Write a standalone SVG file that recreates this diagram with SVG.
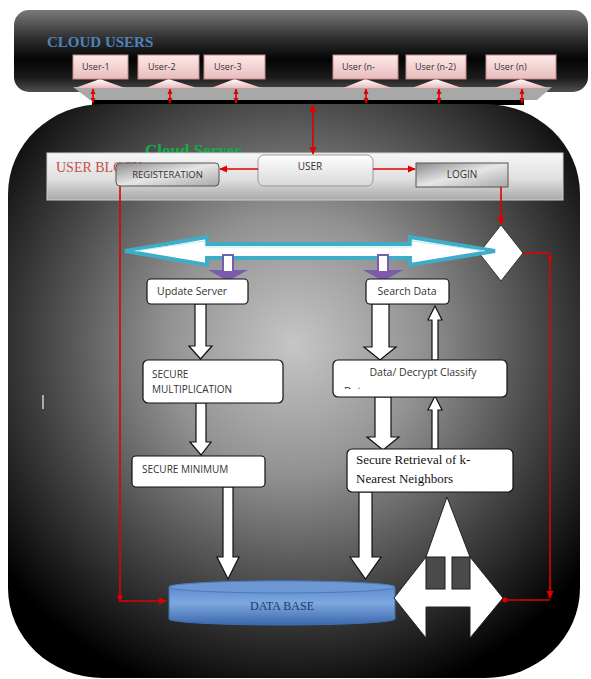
<svg xmlns="http://www.w3.org/2000/svg" width="591" height="679" viewBox="0 0 591 679">
<defs>
<linearGradient id="barGrad" x1="0" y1="0" x2="0" y2="1">
<stop offset="0" stop-color="#7a7a7a"/>
<stop offset="0.15" stop-color="#5a5a5a"/>
<stop offset="0.35" stop-color="#2e2e2e"/>
<stop offset="0.6" stop-color="#040404"/>
<stop offset="0.82" stop-color="#1a1a1a"/>
<stop offset="1" stop-color="#505050"/>
</linearGradient>
<radialGradient id="panelGrad" cx="0.5" cy="0.42" r="0.64">
<stop offset="0" stop-color="#c6c6c6"/>
<stop offset="0.35" stop-color="#929292"/>
<stop offset="0.7" stop-color="#424242"/>
<stop offset="1" stop-color="#000"/>
</radialGradient>
<linearGradient id="userGrad" x1="0" y1="0" x2="0" y2="1">
<stop offset="0" stop-color="#fdeaea"/>
<stop offset="1" stop-color="#e9bcbc"/>
</linearGradient>
<linearGradient id="pedGrad" x1="0" y1="0" x2="0" y2="1">
<stop offset="0" stop-color="#ffffff"/>
<stop offset="1" stop-color="#eeb9b9"/>
</linearGradient>
<linearGradient id="bandGrad" x1="0" y1="0" x2="0" y2="1">
<stop offset="0" stop-color="#f6f6f6"/>
<stop offset="0.55" stop-color="#e0e0e0"/>
<stop offset="1" stop-color="#a9a9a9"/>
</linearGradient>
<linearGradient id="btnGrad" x1="0" y1="0" x2="1" y2="1">
<stop offset="0" stop-color="#8a8a8a"/>
<stop offset="0.5" stop-color="#e6e6e6"/>
<stop offset="1" stop-color="#a8a8a8"/>
</linearGradient>
<linearGradient id="userBtnGrad" x1="0" y1="0" x2="0" y2="1">
<stop offset="0" stop-color="#ffffff"/>
<stop offset="1" stop-color="#d8d8d8"/>
</linearGradient>
<linearGradient id="dbGrad" x1="0" y1="0" x2="0" y2="1">
<stop offset="0" stop-color="#4f80c6"/>
<stop offset="0.5" stop-color="#7ea8e0"/>
<stop offset="1" stop-color="#3a68ac"/>
</linearGradient>
<marker id="rh" viewBox="0 0 10 10" refX="9" refY="5" markerWidth="5" markerHeight="5" orient="auto-start-reverse">
<path d="M0,0.5 L10,5 L0,9.5 z" fill="#e00000"/>
</marker>
<marker id="rs" viewBox="0 0 10 10" refX="9" refY="5" markerWidth="3.5" markerHeight="3.5" orient="auto-start-reverse">
<path d="M0,0.5 L10,5 L0,9.5 z" fill="#e00000"/>
</marker>
<clipPath id="dataClip"><rect x="333" y="360" width="174" height="29"/></clipPath>
<style>
.sans{font-family:"Open Sans","Liberation Sans",sans-serif;fill:#333}
.ser{font-family:"Liberation Serif",serif}
.box{fill:#fff;stroke:#111;stroke-width:1.2}
.ubox{fill:url(#userGrad);stroke:#c48a8a;stroke-width:1}
.ped{fill:url(#pedGrad)}
.red{stroke:#e00000;stroke-width:1.6;fill:none}
.blk{fill:#fff;stroke:#111;stroke-width:1.2;stroke-linejoin:miter}
.pur{fill:#7c5aae}
.dot{fill:#e00000}
</style>
</defs>

<!-- cloud users bar -->
<g id="cloud-users-bar">
<rect x="14" y="10" width="574" height="82" rx="15" fill="url(#barGrad)"/>
<polygon points="73,87 552,87 537,100 90,100" fill="#a8a8a8"/>
<rect x="92" y="100" width="432" height="5" fill="#000"/>
<text x="47" y="46.5" class="ser" font-size="15" font-weight="bold" fill="#4f81bd">CLOUD USERS</text>
</g>

<!-- server panel -->
<g id="server-panel">
<rect x="8" y="104" width="572" height="574" rx="95" ry="90" fill="url(#panelGrad)"/>
<text x="145" y="156" class="ser" font-size="17" font-weight="bold" fill="#0fae48">Cloud Server</text>
<rect x="47" y="153" width="516" height="47" fill="url(#bandGrad)" stroke="#d0d0d0" stroke-width="1"/>
<text x="56" y="172" class="ser" font-size="14" fill="#c0504d">USER BLOCK</text>
<line x1="43" y1="395" x2="43" y2="409" stroke="#cfcfcf" stroke-width="1.5"/>
</g>

<!-- users -->
<g id="user-1"><polygon class="ped" points="75,88 125,88 100,79"/><rect class="ubox" x="73" y="55" width="55" height="24"/><text x="82" y="70" class="sans" font-size="9">User-1</text></g>
<g id="user-2"><polygon class="ped" points="146,88 197,88 168.5,79"/><rect class="ubox" x="138" y="55" width="61" height="24"/><text x="148" y="70" class="sans" font-size="9">User-2</text></g>
<g id="user-3"><polygon class="ped" points="211,88 262,88 234.5,79"/><rect class="ubox" x="204" y="55" width="61" height="24"/><text x="214" y="70" class="sans" font-size="9">User-3</text></g>
<g id="user-n-1"><polygon class="ped" points="343,88 392,88 365.5,79"/><rect class="ubox" x="333" y="55" width="65" height="24"/><text x="342" y="70" class="sans" font-size="9">User (n-</text></g>
<g id="user-n-2"><polygon class="ped" points="412,88 462,88 436,79"/><rect class="ubox" x="406" y="55" width="60" height="24"/><text x="415" y="70" class="sans" font-size="9">User (n-2)</text></g>
<g id="user-n"><polygon class="ped" points="494,88 548,88 521,79"/><rect class="ubox" x="486" y="55" width="70" height="24"/><text x="494" y="70" class="sans" font-size="9">User (n)</text></g>

<!-- user block buttons -->
<g id="registration"><rect x="116" y="163" width="103" height="23" rx="4" fill="url(#btnGrad)" stroke="#555" stroke-width="1"/><text x="167.5" y="178" class="sans" font-size="9.5" text-anchor="middle">REGISTERATION</text></g>
<g id="user"><rect x="258" y="155" width="115" height="31" rx="6" fill="url(#userBtnGrad)" stroke="#999" stroke-width="1"/><text x="310" y="170" class="sans" font-size="10" text-anchor="middle">USER</text></g>
<g id="login"><rect x="416" y="163" width="92" height="24" fill="url(#btnGrad)" stroke="#555" stroke-width="1"/><text x="462" y="178" class="sans" font-size="10" text-anchor="middle">LOGIN</text></g>

<g id="decision"><polygon points="501,225 523,253 501,281 479,253" fill="#fff" stroke="#333" stroke-width="1"/></g>

<!-- connectors -->
<g id="connectors">
<line class="red" x1="93" y1="89" x2="93" y2="103" marker-start="url(#rs)" marker-end="url(#rs)"/>
<line class="red" x1="170" y1="89" x2="170" y2="103" marker-start="url(#rs)" marker-end="url(#rs)"/>
<line class="red" x1="236" y1="89" x2="236" y2="103" marker-start="url(#rs)" marker-end="url(#rs)"/>
<line class="red" x1="366" y1="89" x2="366" y2="103" marker-start="url(#rs)" marker-end="url(#rs)"/>
<line class="red" x1="439" y1="89" x2="439" y2="103" marker-start="url(#rs)" marker-end="url(#rs)"/>
<line class="red" x1="522" y1="89" x2="522" y2="103" marker-start="url(#rs)" marker-end="url(#rs)"/>
<line class="red" x1="313" y1="105" x2="313" y2="154" marker-start="url(#rh)" marker-end="url(#rh)"/>
<line class="red" x1="258" y1="169" x2="220" y2="169" marker-end="url(#rh)"/>
<line class="red" x1="373" y1="169" x2="415" y2="169" marker-end="url(#rh)"/>
<line class="red" x1="501" y1="187" x2="501" y2="224" marker-end="url(#rh)"/>
<polyline class="red" points="523,253 550,253"/>
<line class="red" x1="550" y1="254" x2="550" y2="598" marker-start="url(#rs)" marker-end="url(#rh)"/>
<line class="red" x1="550" y1="600" x2="505" y2="600"/>
<circle class="dot" cx="505" cy="600" r="2.5"/>
<polyline class="red" points="120,186 120,601 166,601" marker-end="url(#rh)"/>
<circle class="dot" cx="120" cy="597" r="2.5"/>

<polygon points="125,251 207,237 207,244 410,244 410,237 495,251 410,265 410,258 207,258 207,265" fill="#fff" stroke="#3eaec8" stroke-width="4" stroke-linejoin="miter"/>
<polyline points="135,251 205,241 205,247 412,247 412,241 485,251" fill="none" stroke="#bfeaf3" stroke-width="1"/>

<g>
<polygon class="pur" points="208,270 248,270 228,281"/>
<rect x="223" y="255" width="10" height="17" fill="#fff" stroke="#7c5aae" stroke-width="2"/>
<polygon class="pur" points="363,270 403,270 383,281"/>
<rect x="378" y="255" width="10" height="17" fill="#fff" stroke="#7c5aae" stroke-width="2"/>
</g>

<polygon class="blk" points="195,304 206,304 206,346 212,346 200.5,359 189,346 195,346"/>
<polygon class="blk" points="196,403 206,403 206,442 211,442 201,455 190,442 196,442"/>
<polygon class="blk" points="223,487 233,487 233,557 239,557 228,579 217,557 223,557"/>
<polygon class="blk" points="372,304 389,304 389,347 396,347 380,360 364,347 372,347"/>
<polygon class="blk" points="375,397 391,397 391,437 399,437 383,450 367,437 375,437"/>
<polygon class="blk" points="359,492 372,492 372,557 381,557 365.5,579 350,557 359,557"/>
<polygon class="blk" points="432,360 438,360 438,320 442,320 435,306 428,320 432,320" stroke-width="1"/>
<polygon class="blk" points="432,449 438,449 438,410 442,410 435,396 428,410 432,410" stroke-width="1"/>
</g>

<!-- flow nodes -->
<g id="update-server"><rect class="box" x="147" y="279" width="101" height="25" rx="4"/><text x="157" y="295" class="sans" font-size="10.5">Update Server</text></g>
<g id="secure-multiplication"><rect class="box" x="143" y="360" width="140" height="43" rx="5"/><text x="152" y="378" class="sans" font-size="10">SECURE</text><text x="152" y="393" class="sans" font-size="10">MULTIPLICATION</text></g>
<g id="secure-minimum"><rect class="box" x="132" y="456" width="133" height="31" rx="4"/><text x="142" y="473" class="sans" font-size="10">SECURE MINIMUM</text></g>
<g id="search-data"><rect class="box" x="366" y="279" width="83" height="25" rx="4"/><text x="407" y="295" class="sans" font-size="10.5" text-anchor="middle">Search Data</text></g>
<g id="decrypt-classify"><rect class="box" x="333" y="360" width="174" height="37" rx="5"/><text x="423" y="376" class="sans" font-size="10.5" text-anchor="middle">Data/ Decrypt Classify</text><text x="344" y="395" class="sans" font-size="10.5" clip-path="url(#dataClip)">Data</text></g>
<g id="secure-retrieval"><rect class="box" x="347" y="449" width="166" height="43" rx="5"/><text x="356" y="464" class="ser" font-size="13" fill="#111">Secure Retrieval of k-</text><text x="356" y="483" class="ser" font-size="13" fill="#111">Nearest Neighbors</text></g>

<g id="database">
<path d="M169,587 V619 A113,6 0 0 0 395,619 V587 A113,6 0 0 0 169,587 Z" fill="url(#dbGrad)" stroke="#3d6fb3" stroke-width="1"/>
<ellipse cx="282" cy="587" rx="113" ry="6" fill="#6d98d4" stroke="#4a7bbd" stroke-width="1"/>
<text x="282" y="610" class="ser" font-size="12" fill="#1f3864" text-anchor="middle">DATA BASE</text>
</g>

<g id="quad-arrow">
<polygon points="447,497 470,557 503,598 470,638 470,607 426,607 426,638 394,598 426,557" fill="#fff" stroke="#222" stroke-width="1"/>
<rect x="426" y="557" width="19" height="32" fill="#4a4a4a" stroke="#1a1a1a" stroke-width="1"/>
<rect x="452" y="557" width="18" height="32" fill="#4a4a4a" stroke="#1a1a1a" stroke-width="1"/>
</g>
</svg>
